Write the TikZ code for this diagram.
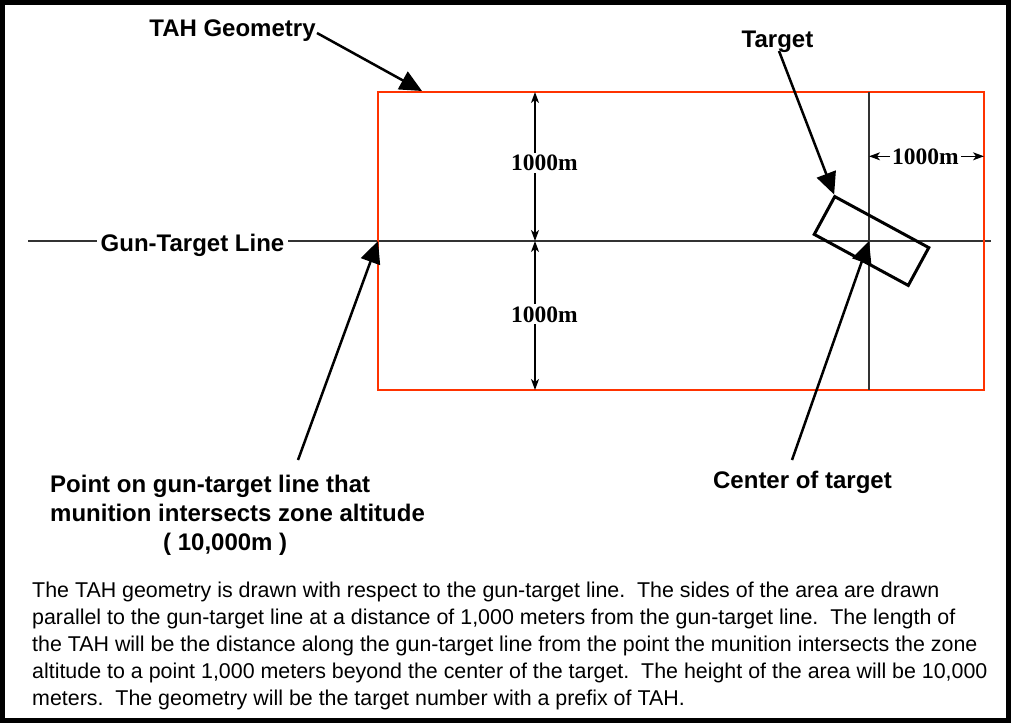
\documentclass[tikz,border=0pt]{standalone}
\usepackage{fontspec}
\setmainfont{Liberation Sans}
\newfontfamily\dimfont{Liberation Serif}
\usetikzlibrary{arrows.meta,calc}
\definecolor{tahred}{HTML}{FF3300}
\definecolor{thinline}{HTML}{333333}
\frenchspacing
\begin{document}
\begin{tikzpicture}[x=1pt,y=-1pt,
  lbl/.style={font=\fontsize{24}{28.7}\selectfont\bfseries, inner sep=0pt},
  dimlbl/.style={font=\dimfont\fontsize{23.5}{24}\selectfont\bfseries, inner sep=2pt},
  para/.style={font=\fontsize{21.4}{27}\selectfont, inner sep=0pt},
  callout/.style={line width=2.5pt, -{Triangle[length=22pt,width=20pt]}},
  dim/.style={line width=1.2pt, -{Stealth[length=11pt,width=8pt,inset=3pt]}},
  thin/.style={line width=1.3pt, draw=thinline},
  tahline/.style={line width=2.2pt, draw=tahred},
  targetbox/.style={draw, line width=3pt, minimum width=107pt, minimum height=43pt, inner sep=0pt},
  frame/.style={line width=5pt}]
\useasboundingbox (0,0) rectangle (1011,723);
\draw[frame] (2.5,2.5) rectangle (1008.5,720.5);

% key coordinates
\coordinate (rtl) at (378,92);
\coordinate (rbr) at (984,390);
\coordinate (gl) at (28,241);
\coordinate (gr) at (991,241);
\coordinate (ctr) at (869,241);
\coordinate (vt) at (869,92);
\coordinate (vb) at (869,390);
\coordinate (lefthit) at (378,241);
\coordinate (tahtip) at (422,91);

% gun-target line with label
\node[lbl, anchor=base, inner xsep=4pt] (gunlbl) at (192.5,251.5) {Gun-Target Line};
\draw[thin] (gl) -- (gunlbl.west |- gl);
\draw[thin] (gunlbl.east |- gl) -- (gr);

% TAH area
\draw[tahline] (rtl) rectangle (rbr);
\draw[thin] (vt) -- (vb);

% target
\node[targetbox, rotate=-28.5] (tgt) at (871.5,241) {};

% dimension labels and arrows
\coordinate (d1top) at (535,92);
\coordinate (d1bot) at (535,241);
\coordinate (d2top) at (535,241);
\coordinate (d2bot) at (535,390);
\node[dimlbl, anchor=base] (d1) at (544.5,170.7) {1000m};
\node[dimlbl, anchor=base] (d2) at (544.5,322) {1000m};
\draw[dim] (d1.north -| d1top) -- (d1top);
\draw[dim] (d1.south -| d1bot) -- (d1bot);
\draw[dim] (d2.north -| d2top) -- (d2top);
\draw[dim] (d2.south -| d2bot) -- (d2bot);
\node[dimlbl, anchor=base] (d3) at (925.5,164) {1000m};
\draw[dim] (d3.west) -- (d3.west -| ctr);
\draw[dim] (d3.east) -- (d3.east -| rbr);

% labels
\node[lbl, anchor=base] (tah) at (232.5,36) {TAH Geometry};
\node[lbl, anchor=base] (tlabel) at (777.5,47) {Target};
\node[lbl, anchor=base] (clabel) at (802.5,488) {Center of target};
\node[lbl, anchor=base west, align=left] (plabel) at (50,550)
  {Point on gun-target line that\\munition intersects zone altitude\\\hspace*{113pt}( 10,000m )};

\coordinate (tahtail) at (317,33);
\coordinate (ttail) at (779,51);
\coordinate (ctail) at (792,460);
\coordinate (ptail) at (298,460);

% callout arrows
\draw[callout] (tahtail) -- (tahtip);
\draw[callout] (ttail) -- (tgt.north west);
\draw[callout] (ctail) -- (ctr);
\draw[callout] (ptail) -- (lefthit);

% explanation
\node[para, anchor=base west, align=left] (para) at (32,705)
  {The TAH geometry is drawn with respect to the gun-target line.\ \ The sides of the area are drawn\\
   parallel to the gun-target line at a distance of 1,000 meters from the gun-target line.\ \ The length of\\
   the TAH will be the distance along the gun-target line from the point the munition intersects the zone\\
   altitude to a point 1,000 meters beyond the center of the target.\ \ The height of the area will be 10,000\\
   meters.\ \ The geometry will be the target number with a prefix of TAH.};
\end{tikzpicture}
\end{document}
